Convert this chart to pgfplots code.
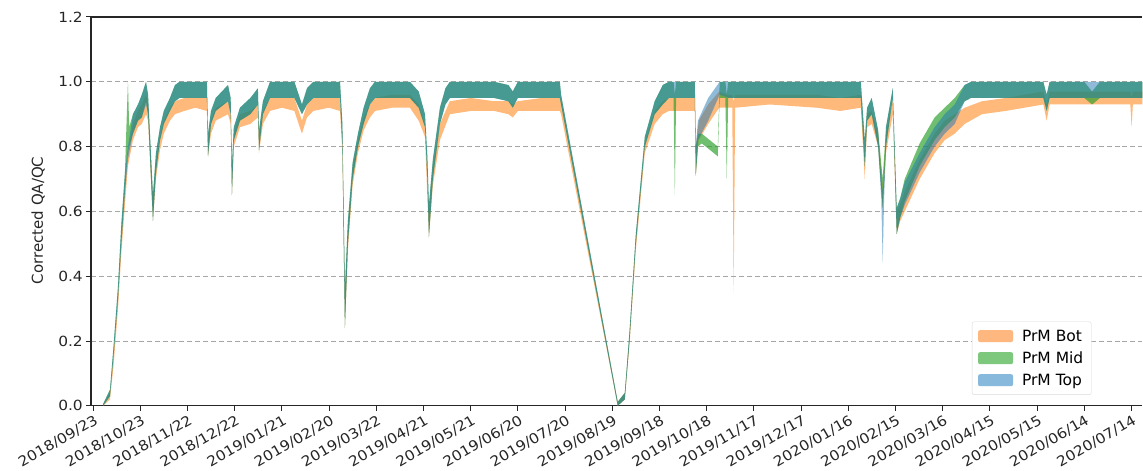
\documentclass[border=0pt]{standalone}
\usepackage{fontspec}
\setmainfont{DejaVu Sans}
\newfontfamily\tickfamily{DejaVu Sans}[FakeStretch=1.1]
\newcommand{\tickfs}{\tickfamily\fontsize{14}{16.5}\selectfont}
\newcommand{\labfs}{\fontsize{15}{18}\selectfont}
\newcommand{\legfs}{\fontsize{15.5}{18}\selectfont}
\usepackage{pgfplots}
\usepackage{pgfplotstable}
\pgfplotsset{compat=1.18}
\usepgfplotslibrary{fillbetween}
\definecolor{tabOrange}{RGB}{255,127,14}
\definecolor{tabGreen}{RGB}{44,160,44}
\definecolor{tabBlue}{RGB}{31,119,180}
\definecolor{legOrange}{RGB}{255,183,128}
\definecolor{legGreen}{RGB}{125,200,125}
\definecolor{legBlue}{RGB}{135,185,220}

\pgfplotstableread{
x lo hi
6.4 0.000 0.005
10.8 0.02 0.04
13 0.12 0.16
15.9 0.30 0.34
18 0.47 0.52
20.3 0.62 0.68
22.2 0.74 0.78
25.4 0.82 0.87
28.6 0.86 0.91
31 0.87 0.93
33.7 0.90 0.96
35 0.88 0.93
38.1 0.57 0.64
40 0.70 0.75
42.6 0.79 0.83
45 0.84 0.88
48.9 0.88 0.92
52.1 0.90 0.94
58 0.91 0.95
65 0.92 0.95
72.4 0.91 0.95
73.1 0.77 0.82
75 0.84 0.88
78 0.88 0.92
85.8 0.90 0.94
87.5 0.87 0.91
88.3 0.65 0.72
89.5 0.80 0.84
93.4 0.86 0.90
100 0.87 0.91
104.8 0.89 0.93
105.5 0.78 0.83
108 0.87 0.91
112.5 0.91 0.95
120 0.92 0.95
128 0.91 0.95
132.8 0.84 0.88
136 0.89 0.93
140 0.91 0.95
150 0.92 0.95
157 0.91 0.95
158.5 0.78 0.84
160.1 0.24 0.34
162 0.48 0.55
165 0.68 0.73
168.4 0.78 0.82
172 0.85 0.89
176 0.89 0.93
179.2 0.91 0.95
190 0.92 0.96
201.4 0.92 0.96
207 0.88 0.93
211 0.83 0.87
213.5 0.52 0.60
216 0.68 0.73
220.5 0.82 0.87
226.8 0.90 0.94
240 0.91 0.95
255 0.91 0.94
264 0.90 0.94
266.8 0.89 0.93
270 0.91 0.94
285 0.91 0.95
296.7 0.91 0.95
297.5 0.90 0.94
333.5 0.000 0.012
338 0.02 0.04
341 0.19 0.22
345 0.48 0.52
350.7 0.78 0.81
357 0.87 0.91
362.1 0.90 0.94
366 0.91 0.95
382.5 0.91 0.95
383.1 0.71 0.80
385 0.82 0.88
391 0.87 0.93
398 0.92 0.97
403 0.92 0.96
406.3 0.92 0.96
407.2 0.35 0.94
408.1 0.92 0.96
430 0.93 0.96
460 0.92 0.96
475 0.91 0.95
488 0.92 0.96
490.5 0.70 0.78
492 0.86 0.90
494.9 0.87 0.91
499 0.80 0.84
501.9 0.61 0.68
504 0.78 0.84
508.3 0.90 0.94
510.8 0.53 0.60
513 0.57 0.62
515.9 0.60 0.66
525.4 0.70 0.76
534.9 0.78 0.84
541.3 0.82 0.88
547.7 0.84 0.90
554 0.87 0.92
565 0.90 0.94
580 0.91 0.95
604 0.93 0.97
606.1 0.88 0.93
608 0.93 0.97
658 0.93 0.97
659.3 0.93 0.97
660.1 0.86 0.95
660.9 0.93 0.97
667 0.93 0.97
}\tblBot

\pgfplotstableread{
x lo hi
6.4 0.000 0.005
10.8 0.03 0.05
13 0.15 0.18
15.9 0.33 0.37
18 0.50 0.56
20.3 0.66 0.72
21.5 0.74 0.90
22.2 0.78 1.00
23 0.80 0.86
25.4 0.84 0.90
28.6 0.88 0.93
31 0.89 0.96
33.7 0.94 1.00
35 0.90 0.96
38.1 0.57 0.65
40 0.72 0.78
42.6 0.82 0.86
45 0.87 0.91
48.9 0.91 0.95
52.1 0.94 0.99
55 0.95 1.00
72.4 0.95 1.00
73.1 0.77 0.84
75 0.87 0.91
78 0.91 0.95
85.8 0.94 0.99
87.5 0.90 0.95
88.3 0.65 0.74
89.5 0.82 0.86
93.4 0.88 0.92
100 0.90 0.95
104.8 0.93 0.98
105.5 0.79 0.85
108 0.90 0.94
112.5 0.95 1.00
128 0.95 1.00
132.8 0.90 0.93
136 0.93 0.98
140 0.95 1.00
157 0.95 1.00
158.5 0.80 0.87
160.1 0.24 0.36
162 0.50 0.57
165 0.70 0.75
168.4 0.80 0.84
172 0.87 0.92
176 0.93 0.98
179.2 0.95 1.00
201.4 0.95 1.00
207 0.92 0.97
211 0.86 0.90
212.5 0.70 0.77
213.5 0.52 0.62
216 0.70 0.76
220.5 0.87 0.92
224 0.93 0.98
226.8 0.95 1.00
255 0.95 1.00
264 0.94 0.99
266.8 0.92 0.97
270 0.95 1.00
296.7 0.95 1.00
297.5 0.93 0.96
333.5 0.000 0.012
338 0.02 0.04
341 0.20 0.23
345 0.50 0.53
350.7 0.80 0.83
357 0.90 0.94
362.1 0.93 0.99
366 0.95 1.00
369 0.95 1.00
369.8 0.65 0.96
370.6 0.95 1.00
382.5 0.95 1.00
383.1 0.71 0.80
384.5 0.80 0.84
386.9 0.81 0.84
397.1 0.77 0.80
398.3 0.95 1.00
401.9 0.95 1.00
402.8 0.70 0.96
403.7 0.95 1.00
488 0.95 1.00
490.5 0.74 0.82
492 0.88 0.92
494.9 0.90 0.95
499 0.80 0.85
501.9 0.61 0.70
504 0.80 0.86
508.3 0.95 0.98
510.8 0.53 0.61
513 0.58 0.64
515.9 0.63 0.70
525.4 0.74 0.81
534.9 0.82 0.89
541.3 0.86 0.92
547.7 0.89 0.95
554 0.94 0.99
558 0.95 1.00
604 0.95 1.00
606.1 0.91 0.96
608 0.95 1.00
630 0.95 1.00
635 0.93 0.97
640 0.95 1.00
667 0.95 1.00
}\tblMid

\pgfplotstableread{
x lo hi
6.4 0.000 0.005
10.8 0.03 0.05
13 0.15 0.18
15.9 0.33 0.37
18 0.50 0.56
20.3 0.66 0.72
22.2 0.76 0.80
25.4 0.84 0.90
28.6 0.88 0.93
31 0.89 0.96
33.7 0.93 1.00
35 0.90 0.96
38.1 0.57 0.65
40 0.72 0.78
42.6 0.82 0.86
45 0.87 0.91
48.9 0.91 0.95
52.1 0.94 0.99
55 0.95 1.00
72.4 0.95 1.00
73.1 0.77 0.84
75 0.87 0.91
78 0.91 0.95
85.8 0.94 0.99
87.5 0.90 0.95
88.3 0.65 0.74
89.5 0.82 0.86
93.4 0.88 0.92
100 0.90 0.95
104.8 0.93 0.98
105.5 0.79 0.85
108 0.90 0.94
112.5 0.95 1.00
128 0.95 1.00
132.8 0.90 0.93
136 0.93 0.98
140 0.95 1.00
157 0.95 1.00
158.5 0.80 0.87
160.1 0.24 0.36
162 0.50 0.57
165 0.70 0.75
168.4 0.80 0.84
172 0.87 0.92
176 0.93 0.98
179.2 0.95 1.00
201.4 0.95 1.00
207 0.92 0.97
211 0.86 0.90
212.5 0.70 0.77
213.5 0.52 0.62
216 0.70 0.76
220.5 0.87 0.92
224 0.93 0.98
226.8 0.95 1.00
255 0.95 1.00
264 0.94 0.99
266.8 0.92 0.97
270 0.95 1.00
296.7 0.95 1.00
297.5 0.93 0.96
333.5 0.000 0.012
338 0.02 0.04
341 0.20 0.23
345 0.50 0.53
350.7 0.80 0.83
357 0.90 0.94
362.1 0.93 0.99
366 0.95 1.00
382.5 0.95 1.00
383.1 0.71 0.80
384.5 0.82 0.88
391 0.88 0.95
398.3 0.96 1.00
404.2 0.95 1.00
488 0.95 1.00
490.5 0.74 0.82
492 0.88 0.92
494.9 0.90 0.95
499 0.80 0.85
501.0 0.64 0.70
501.9 0.44 0.66
502.8 0.64 0.70
504 0.80 0.86
508.3 0.95 0.98
510.8 0.53 0.61
513 0.58 0.64
515.9 0.62 0.69
525.4 0.72 0.78
534.9 0.80 0.86
541.3 0.84 0.90
547.7 0.87 0.93
554 0.94 0.99
558 0.95 1.00
604 0.95 1.00
606.1 0.91 0.96
608 0.95 1.00
667 0.95 1.00
}\tblTop

\begin{document}
\begin{tikzpicture}
\begin{axis}[
  scale only axis,
  width=1052pt, height=389pt,
  xmin=-1.3, xmax=667, ymin=0, ymax=1.2,
  axis x line*=box, axis y line*=left,
  axis line style={black!85, line width=1.1pt},
  xtick={0,30,...,660},
  xticklabels={2018/09/23,2018/10/23,2018/11/22,2018/12/22,2019/01/21,2019/02/20,2019/03/22,2019/04/21,2019/05/21,2019/06/20,2019/07/20,2019/08/19,2019/09/18,2019/10/18,2019/11/17,2019/12/17,2020/01/16,2020/02/15,2020/03/16,2020/04/15,2020/05/15,2020/06/14,2020/07/14},
  xtick pos=lower, ytick pos=left,
  tick align=outside,
  major tick length=5pt,
  every tick/.style={black!85, line width=1pt},
  ytick={0,0.2,...,1.21},
  yticklabel style={/pgf/number format/fixed, /pgf/number format/fixed zerofill, /pgf/number format/precision=1},
  /pgf/number format/assume math mode=true,
  tick label style={font=\tickfs, text=black!85},
  xticklabel style={rotate=30, anchor=north east, inner sep=1pt, yshift=-2pt},
  yticklabel style={inner sep=2pt, xshift=-1pt},
  ylabel={\labfs Corrected QA/QC},
  ylabel style={text=black!85, at={(ticklabel cs:0.5)}, xshift=-9pt, yshift=8pt},
  ymajorgrids,
  grid style={dash pattern=on 5pt off 3pt, gray!70, line width=0.8pt},
  legend cell align=left,
  legend style={at={(1,0)}, anchor=south east, xshift=-51pt, yshift=11pt,
    font=\legfs, draw=black!15, rounded corners=2pt,
    fill=white, inner xsep=6pt, inner ysep=6pt, row sep=5pt,
    /tikz/every odd column/.append style={column sep=7pt}},
  legend image code/.code={\fill[#1, draw=none] (0pt,-6pt) rectangle (35pt,6pt);},
]
\addplot[draw=none, name path=bH, forget plot] table[x=x, y=hi] {\tblBot};
\addplot[draw=none, name path=bL, forget plot] table[x=x, y=lo] {\tblBot};
\addplot[fill=tabOrange, fill opacity=0.55, draw=none, forget plot] fill between[of=bH and bL];

\addplot[draw=none, name path=mH, forget plot] table[x=x, y=hi] {\tblMid};
\addplot[draw=none, name path=mL, forget plot] table[x=x, y=lo] {\tblMid};
\addplot[fill=tabGreen, fill opacity=0.68, draw=none, forget plot] fill between[of=mH and mL];

\addplot[draw=none, name path=tH, forget plot] table[x=x, y=hi] {\tblTop};
\addplot[draw=none, name path=tL, forget plot] table[x=x, y=lo] {\tblTop};
\addplot[fill=tabBlue, fill opacity=0.5, draw=none, forget plot] fill between[of=tH and tL];

\addlegendimage{fill=legOrange}
\addlegendentry{PrM Bot}
\addlegendimage{fill=legGreen}
\addlegendentry{PrM Mid}
\addlegendimage{fill=legBlue}
\addlegendentry{PrM Top}
\end{axis}
\path ([yshift=17pt]current axis.north west) ([xshift=-91pt]current axis.south west);
\end{tikzpicture}
\end{document}
